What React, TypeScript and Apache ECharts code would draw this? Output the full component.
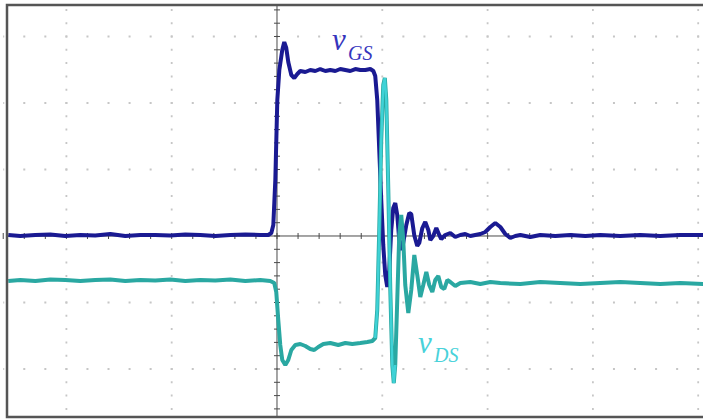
import React, { useEffect, useRef } from "react";
import * as echarts from "echarts";

// Time in divisions (0 = trigger), voltage in divisions (0 = centre line)
const gsTime = [
  -2.552, -2.438, -2.295, -2.153, -2.01, -1.868, -1.726, -1.583, -1.441, -1.298, -1.156, -1.013,
  -0.871, -0.728, -0.586, -0.443, -0.301, -0.159, -0.083, -0.054, -0.035, -0.016, 0.003, 0.022,
  0.05, 0.069, 0.088, 0.107, 0.136, 0.164, 0.193, 0.221, 0.269, 0.316, 0.364, 0.411, 0.459, 0.506,
  0.554, 0.601, 0.649, 0.696, 0.744, 0.791, 0.839, 0.886, 0.915, 0.933, 0.952, 0.971, 0.99, 1.009,
  1.028, 1.047, 1.066, 1.085, 1.104, 1.123, 1.142, 1.161, 1.18, 1.199, 1.228, 1.256, 1.275, 1.304,
  1.332, 1.351, 1.38, 1.408, 1.437, 1.456, 1.484, 1.513, 1.541, 1.56, 1.598, 1.646, 1.693, 1.741,
  1.788, 1.836, 1.883, 1.931, 1.978, 2.026, 2.073, 2.121, 2.168, 2.216, 2.263, 2.311, 2.406, 2.5,
  2.643, 2.785, 2.928, 3.07, 3.26, 3.45, 3.64, 3.83, 4.048,
];
const gsVolt = [
  0.015, 0, 0.015, 0.023, 0, 0.015, 0.008, 0.03, 0, 0.015, 0.015, 0.008,
  0.023, 0.015, 0, 0.015, 0.023, 0.015, 0.015, 0.045, 0.165, 0.842, 2.045, 2.496,
  2.797, 2.917, 2.827, 2.617, 2.421, 2.376, 2.436, 2.481, 2.466, 2.496, 2.481, 2.511, 2.481, 2.496,
  2.481, 2.511, 2.496, 2.481, 2.511, 2.496, 2.496, 2.511, 2.481, 2.406, 2.045, 1.293, 0.541, -0.135,
  -0.586, -0.767, -0.511, 0.09, 0.421, 0.496, 0.316, -0.06, -0.211, -0.105, 0.165, 0.346, 0.331, 0.008,
  -0.15, -0.105, 0.12, 0.211, 0.09, -0.06, 0.0, 0.12, 0.015, -0.045, 0.015, 0.045, -0.015, 0.015,
  0.03, 0, 0.015, 0.03, 0.06, 0.135, 0.195, 0.135, 0.03, -0.03, 0, 0.015, -0.015, 0.015,
  0, 0.015, 0, 0.015, 0, 0.015, 0, 0.015, 0.015,
];

const dsTime = [
  -2.552, -2.438, -2.295, -2.153, -2.01, -1.868, -1.726, -1.583, -1.441, -1.298, -1.156, -1.013,
  -0.871, -0.728, -0.586, -0.443, -0.301, -0.159, -0.064, -0.026, -0.007, 0.012, 0.031, 0.05,
  0.079, 0.107, 0.136, 0.174, 0.221, 0.269, 0.316, 0.354, 0.392, 0.44, 0.506, 0.582, 0.649, 0.715,
  0.791, 0.858, 0.905, 0.933, 0.952, 0.971, 0.99, 1.009, 1.024, 1.038, 1.057, 1.076, 1.095, 1.109,
  1.123, 1.142, 1.161, 1.18, 1.199, 1.218, 1.247, 1.275, 1.304, 1.332, 1.361, 1.389, 1.418, 1.446,
  1.475, 1.503, 1.532, 1.56, 1.589, 1.617, 1.646, 1.693, 1.741, 1.836, 1.931, 2.026, 2.121, 2.311,
  2.5, 2.69, 2.88, 3.07, 3.26, 3.45, 3.64, 3.83, 4.048,
];
const dsVolt = [
  -0.677, -0.662, -0.677, -0.654, -0.662, -0.677, -0.662, -0.654, -0.677, -0.662, -0.669, -0.654,
  -0.677, -0.662, -0.669, -0.654, -0.677, -0.662, -0.677, -0.707, -0.842, -1.263, -1.639, -1.865,
  -1.94, -1.865, -1.714, -1.639, -1.624, -1.654, -1.699, -1.714, -1.669, -1.624, -1.609, -1.639, -1.609, -1.624,
  -1.609, -1.594, -1.579, -1.534, -1.113, 0.09, 1.444, 2.271, 2.376, 2.045, 0.692, -0.812, -1.94, -2.211,
  -1.94, -0.962, 0.015, 0.316, -0.06, -0.737, -1.158, -0.812, -0.286, -0.586, -0.917, -0.737, -0.541, -0.737,
  -0.842, -0.662, -0.602, -0.767, -0.797, -0.662, -0.692, -0.752, -0.707, -0.692, -0.722, -0.692, -0.707, -0.722,
  -0.692, -0.707, -0.722, -0.707, -0.692, -0.707, -0.722, -0.707, -0.722,
];

const gsLabel = ["v", "GS"];
const dsLabel = ["v", "DS"];

const X_MIN = -2.5641;
const X_MAX = 4.0456;
const Y_MIN = -2.7218;
const Y_MAX = 3.4887;

export default function App() {
  const ref = useRef<HTMLDivElement>(null);
  useEffect(() => {
    if (!ref.current) return;
    const chart = echarts.init(ref.current, undefined, { renderer: "svg" });
    const gsData = gsTime.map((t, i) => [t, gsVolt[i]]);
    const dsData = dsTime.map((t, i) => [t, dsVolt[i]]);
    const spikeData = dsData.filter((d) => d[0] >= 0.93 && d[0] <= 1.125);

    const renderGrid = (params: any, api: any) => {
      const children: any[] = [];
      const dotColor = "#c6c6c6";
      [-2, -1, 1, 2, 3, 4].forEach((t) => {
        const a = api.coord([t, 3.6]);
        const b = api.coord([t, -2.8]);
        children.push({
          type: "line",
          shape: { x1: a[0], y1: a[1], x2: b[0], y2: b[1] },
          style: { stroke: dotColor, lineWidth: 1.8, lineDash: [2, 11.3], lineDashOffset: 1 },
        });
      });
      [-2, -1, 1, 2, 3].forEach((v) => {
        const a = api.coord([-2.6, v]);
        const b = api.coord([4.2, v]);
        children.push({
          type: "line",
          shape: { x1: a[0], y1: a[1], x2: b[0], y2: b[1] },
          style: { stroke: dotColor, lineWidth: 1.8, lineDash: [2, 19.06], lineDashOffset: 1 },
        });
      });
      // centre axes
      const axColor = "#4a4a4a";
      const vt = api.coord([0, Y_MAX]);
      const vb = api.coord([0, Y_MIN]);
      children.push({
        type: "line",
        shape: { x1: vt[0], y1: vt[1], x2: vb[0], y2: vb[1] },
        style: { stroke: axColor, lineWidth: 1 },
      });
      const hl = api.coord([X_MIN, 0]);
      const hr = api.coord([X_MAX, 0]);
      children.push({
        type: "line",
        shape: { x1: hl[0], y1: hl[1], x2: hr[0], y2: hr[1] },
        style: { stroke: axColor, lineWidth: 1 },
      });
      for (let k = -13; k <= 21; k++) {
        const p = api.coord([k * 0.2, 0]);
        children.push({
          type: "line",
          shape: { x1: p[0], y1: p[1] - 3, x2: p[0], y2: p[1] + 3 },
          style: { stroke: axColor, lineWidth: 1 },
        });
      }
      for (let k = -14; k <= 18; k++) {
        const p = api.coord([0, k * 0.2]);
        children.push({
          type: "line",
          shape: { x1: p[0] - 3, y1: p[1], x2: p[0] + 3, y2: p[1] },
          style: { stroke: axColor, lineWidth: 1 },
        });
      }
      return { type: "group", children };
    };

    chart.setOption({
      animation: false,
      backgroundColor: "#ffffff",
      grid: { left: 7, right: 0, top: 4, bottom: 2 },
      xAxis: { type: "value", min: X_MIN, max: X_MAX, show: false },
      yAxis: { type: "value", min: Y_MIN, max: Y_MAX, show: false },
      series: [
        {
          type: "custom",
          renderItem: renderGrid,
          data: [[0, 0]],
          silent: true,
          z: 1,
        },
        {
          name: "vGS",
          type: "line",
          data: gsData,
          showSymbol: false,
          symbol: "none",
          lineStyle: { color: "#1a1a92", width: 4 },
          z: 3,
        },
        {
          name: "vDS",
          type: "line",
          data: dsData,
          showSymbol: false,
          symbol: "none",
          lineStyle: { color: "#2aa8a2", width: 4 },
          z: 4,
        },
        {
          name: "vDS spike",
          type: "line",
          data: spikeData,
          showSymbol: false,
          symbol: "none",
          lineStyle: { color: "#3fd2d6", width: 2.5 },
          z: 5,
        },
      ],
      graphic: [
        {
          type: "rect",
          shape: { x: 7, y: 5, width: 720, height: 412 },
          style: { fill: "none", stroke: "#555555", lineWidth: 2.5 },
          z: 10,
        },
        {
          type: "text",
          x: 332,
          y: 39,
          style: {
            text: gsLabel[0],
            font: "italic 31px 'Liberation Serif'",
            fill: "#3535bd",
            verticalAlign: "middle",
          },
          z: 10,
        },
        {
          type: "text",
          x: 348,
          y: 53,
          style: {
            text: gsLabel[1],
            font: "italic 20px 'Liberation Serif'",
            fill: "#3535bd",
            verticalAlign: "middle",
          },
          z: 10,
        },
        {
          type: "text",
          x: 418,
          y: 342,
          style: {
            text: dsLabel[0],
            font: "italic 31px 'Liberation Serif'",
            fill: "#48d2da",
            verticalAlign: "middle",
          },
          z: 10,
        },
        {
          type: "text",
          x: 434,
          y: 355,
          style: {
            text: dsLabel[1],
            font: "italic 20px 'Liberation Serif'",
            fill: "#48d2da",
            verticalAlign: "middle",
          },
          z: 10,
        },
      ],
    });
    return () => chart.dispose();
  }, []);
  return (
    <div
      ref={ref}
      style={{ position: "absolute", left: 0, top: 0, width: 703, height: 419, background: "#fff" }}
    />
  );
}
